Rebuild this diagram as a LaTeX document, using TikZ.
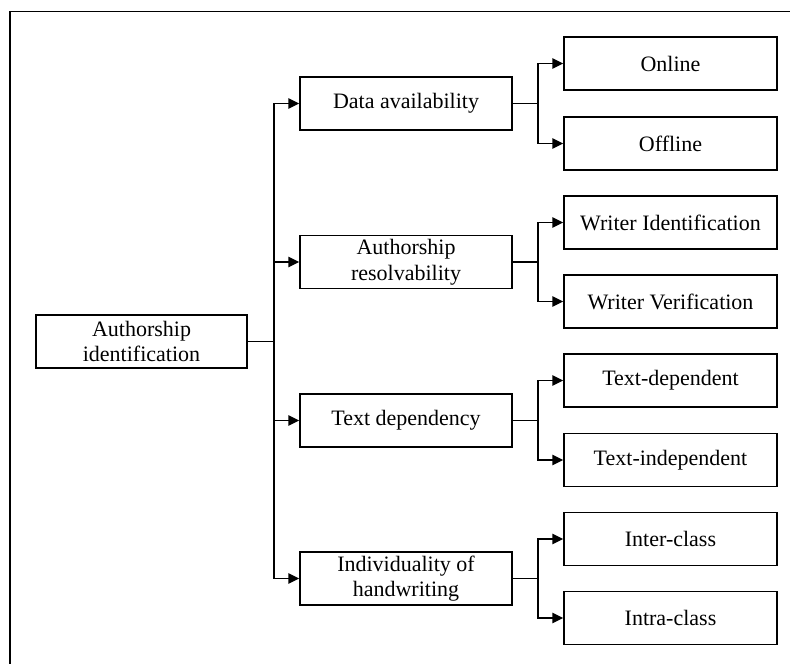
\documentclass[tikz,border=0pt]{standalone}
\usepackage{fontspec}
\setmainfont{Liberation Serif}
\usetikzlibrary{arrows.meta}
\begin{document}
\begin{tikzpicture}[x=1pt,y=-1pt,
  every node/.style={font=\fontsize{22}{25.5}\selectfont},
  box/.style={draw, line width=1.5pt, minimum height=53pt, align=center, inner sep=0pt},
  rootbox/.style={box, minimum width=211pt},
  midbox/.style={box, minimum width=212pt},
  leafbox/.style={box, minimum width=213pt},
  conn/.style={line width=1.5pt},
  arr/.style={conn, -{Triangle[length=11pt,width=10.5pt]}}]
\useasboundingbox (0,0) rectangle (790,664);
% open frame: top and left edges only
\draw[line width=1.2pt] (10,664) -- (10,11.5) -- (790,11.5);

% root
\node[rootbox] (root) at (141.5,341.5) {Authorship\\identification};

% second level
\node[midbox] (data)  at (406,103.5) {Data availability};
\node[midbox] (res)   at (406,262)   {Authorship\\resolvability};
\node[midbox] (dep)   at (406,420.5) {Text dependency};
\node[midbox] (indiv) at (406,578.5) {Individuality of\\handwriting};

% third level
\node[leafbox] (on)    at (670.5,63.5)  {Online};
\node[leafbox] (off)   at (670.5,143.5) {Offline};
\node[leafbox] (wid)   at (670.5,222.5) {Writer Identification};
\node[leafbox] (wver)  at (670.5,301.5) {Writer Verification};
\node[leafbox] (tdep)  at (670.5,380.5) {Text-dependent};
\node[leafbox] (tind)  at (670.5,460)   {Text-independent};
\node[leafbox] (inter) at (670.5,539)   {Inter-class};
\node[leafbox] (intra) at (670.5,618)   {Intra-class};

% junction columns
\coordinate (trunk) at (274,0);
\coordinate (fork) at (538,0);

% root to second level
\foreach \m in {data,res,dep,indiv}
  \draw[arr] (root.east) -- (trunk |- root.east) |- (\m.west);

% second level to leaves
\foreach \m/\a/\b in {data/on/off, res/wid/wver, dep/tdep/tind, indiv/inter/intra}{
  \draw[arr] (\m.east) -- (fork |- \m.east) |- (\a.west);
  \draw[arr] (\m.east) -- (fork |- \m.east) |- (\b.west);
}
\end{tikzpicture}
\end{document}
